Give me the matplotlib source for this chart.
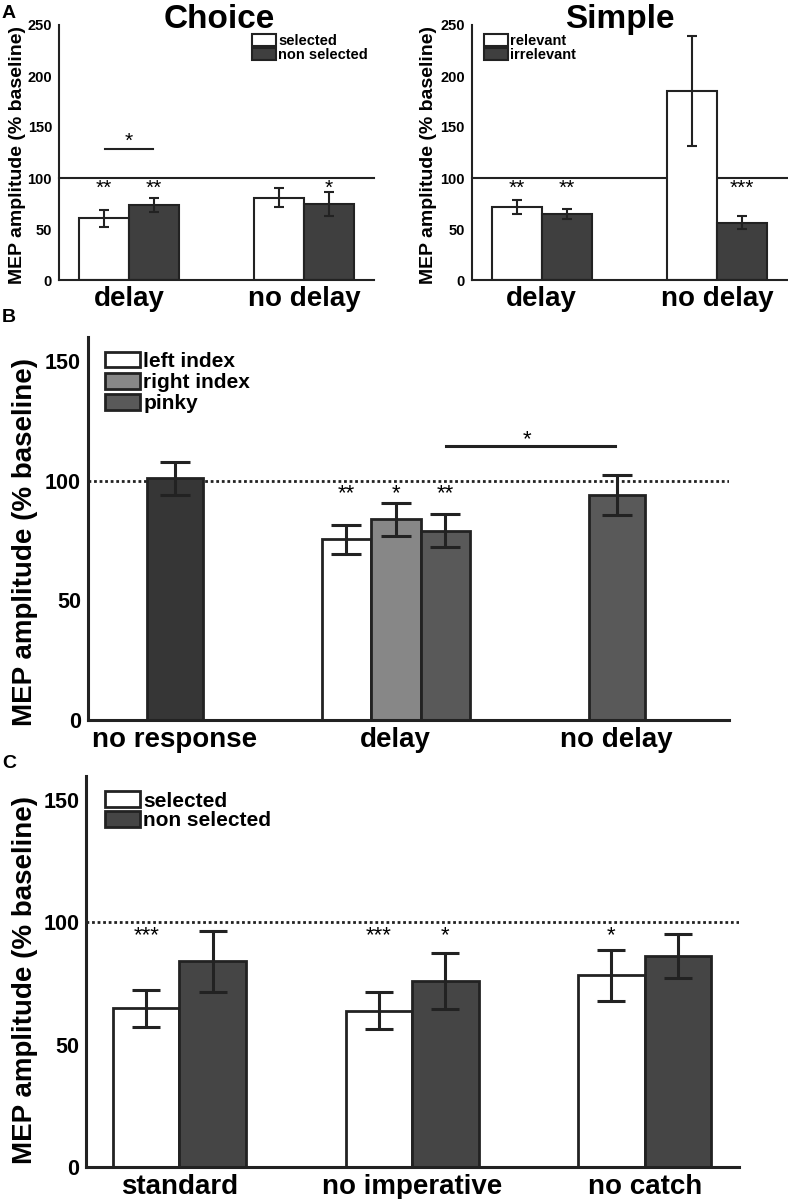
import matplotlib.pyplot as plt
from matplotlib.patches import Patch
import numpy as np

plt.rcParams['font.family'] = ['Liberation Sans', 'DejaVu Sans']

# ---- panel A data ----
grupos_a = ["delay", "no delay"]
choice_sel = [60.5, 80.7]
choice_sel_err = [8.5, 9.3]
choice_non = [73.2, 74.8]
choice_non_err = [7.0, 11.6]
choice_stars_sel = ["**", ""]
choice_stars_non = ["**", "*"]

simple_rel = [71.6, 185.3]
simple_rel_err = [6.9, 53.5]
simple_irr = [64.4, 56.2]
simple_irr_err = [5.0, 6.5]
simple_stars_rel = ["**", ""]
simple_stars_irr = ["**", "***"]

# ---- panel B data ----
grupos_b = ["no response", "delay", "no delay"]
no_response = [101.0]
no_response_err = [6.8]
delay_b = [75.5, 83.8, 79.1]
delay_b_err = [6.1, 6.8, 6.8]
delay_b_stars = ["**", "*", "**"]
no_delay_b = [93.9]
no_delay_b_err = [8.4]
dedos = ["left index", "right index", "pinky"]

# ---- panel C data ----
grupos_c = ["standard", "no imperative", "no catch"]
c_sel = [64.8, 63.8, 78.4]
c_sel_err = [7.5, 7.6, 10.4]
c_non = [84.0, 76.0, 86.2]
c_non_err = [12.3, 11.4, 9.0]
c_stars_sel = ["***", "***", "*"]
c_stars_non = ["", "*", ""]

W, H = 788, 1199
fig = plt.figure(figsize=(W / 100, H / 100), dpi=100)


def caja(x0, x1, ytop, ybot):
    return fig.add_axes([x0 / W, 1 - ybot / H, (x1 - x0) / W, (ybot - ytop) / H])


def estilo(ax, lw, fs_y, fs_x):
    for s in ["top", "right"]:
        ax.spines[s].set_visible(False)
    for s in ["left", "bottom"]:
        ax.spines[s].set_linewidth(lw)
        ax.spines[s].set_color("#222222")
    ax.tick_params(length=0)
    for t in ax.get_yticklabels():
        t.set_fontweight("bold")
        t.set_fontsize(fs_y)
    for t in ax.get_xticklabels():
        t.set_fontweight("bold")
        t.set_fontsize(fs_x)


dark_a = "#3f3f3f"
ek = dict(ecolor="#222222", elinewidth=1.5, capthick=1.5)

# ---------------- A ----------------
paneles = [
    (59, 374, 219, "Choice", choice_sel, choice_sel_err, choice_non, choice_non_err,
     choice_stars_sel, choice_stars_non, ["selected", "non selected"], 0.613, -0.105),
    (471.7, 787, 620, "Simple", simple_rel, simple_rel_err, simple_irr, simple_irr_err,
     simple_stars_rel, simple_stars_irr, ["relevant", "irrelevant"], 0.039, -0.11),
]
for (x0, x1, xt, titulo, v1, e1, v2, e2, s1, s2, labs, legx, labx) in paneles:
    ax = caja(x0, x1, 25, 280)
    x = np.arange(1, 3)
    w = 0.286
    ax.axhline(100, color="#222222", lw=1.5, zorder=1, clip_on=False)
    ax.bar(x - w / 2, v1, w, color="white", edgecolor="#222222", lw=1.5, zorder=2)
    ax.bar(x + w / 2, v2, w, color=dark_a, edgecolor="#222222", lw=1.5, zorder=2)
    ax.errorbar(x - w / 2, v1, yerr=e1, fmt="none", capsize=3.5, zorder=3, **ek)
    ax.errorbar(x + w / 2, v2, yerr=e2, fmt="none", capsize=3.5, zorder=3, **ek)
    for xi, s in zip(x - w / 2, s1):
        ax.text(xi, 90, s, ha="center", va="center", fontsize=15, zorder=4)
    for xi, s in zip(x + w / 2, s2):
        ax.text(xi, 90, s, ha="center", va="center", fontsize=15, zorder=4)
    ax.set_xlim(0.6, 2.4)
    ax.set_ylim(0, 250)
    ax.set_yticks([0, 50, 100, 150, 200, 250])
    ax.set_xticks(x)
    ax.set_xticklabels(grupos_a)
    ax.tick_params(axis="x", pad=4)
    ax.tick_params(axis="y", pad=5)
    estilo(ax, 1.5, 10.5, 20)
    ax.set_ylabel("MEP amplitude (% baseline)", fontsize=14, fontweight="bold")
    ax.yaxis.set_label_coords(labx, 0.49)
    hs = [Patch(facecolor="white", edgecolor="#222222", lw=1.5),
          Patch(facecolor=dark_a, edgecolor="#222222", lw=1.5)]
    ax.legend(hs, labs, loc="upper left", bbox_to_anchor=(legx, 0.965), frameon=False,
              borderpad=0, borderaxespad=0, handlelength=1.65, handleheight=0.85,
              handletextpad=0.15, labelspacing=0.0,
              prop=dict(size=10.5, weight="bold"))
    fig.text(xt / W, 1 - 28 / H, titulo, ha="center", va="baseline",
             fontsize=24, fontweight="bold")
    if titulo == "Choice":
        ax.plot([0.86, 1.14], [128.4, 128.4], color="#222222", lw=1.5)
        ax.text(1.0, 136, "*", ha="center", va="center", fontsize=15)

# ---------------- B ----------------
axb = caja(88, 729, 337, 720)
dotted = dict(color="#222222", lw=2, ls=(0, (1, 1)), zorder=1)
axb.plot([0.606, 3.509], [100, 100], **dotted)
wb1 = 0.253
wb3 = 0.224
col_b = ["white", "#878787", "#595959"]
axb.bar([1], no_response, wb1, color="#363636", edgecolor="#222222", lw=2, zorder=2)
axb.errorbar([1], no_response, yerr=no_response_err, fmt="none", capsize=11,
             ecolor="#222222", elinewidth=2.2, capthick=2.2, zorder=3)
xd = 2 + np.array([-1, 0, 1]) * wb3
axb.bar(xd, delay_b, wb3, color=col_b, edgecolor="#222222", lw=2, zorder=2)
axb.errorbar(xd, delay_b, yerr=delay_b_err, fmt="none", capsize=11,
             ecolor="#222222", elinewidth=2.2, capthick=2.2, zorder=3)
for xi, s in zip(xd, delay_b_stars):
    axb.text(xi, 94.5, s, ha="center", va="center", fontsize=16, zorder=4)
axb.bar([3], no_delay_b, wb1, color="#595959", edgecolor="#222222", lw=2, zorder=2)
axb.errorbar([3], no_delay_b, yerr=no_delay_b_err, fmt="none", capsize=11,
             ecolor="#222222", elinewidth=2.2, capthick=2.2, zorder=3)
axb.plot([2.226, 2.994], [114.6, 114.6], color="#222222", lw=2.2)
axb.text(2.595, 117, "*", ha="center", va="center", fontsize=16)
axb.set_xlim(0.606, 3.509)
axb.set_ylim(0, 160)
axb.set_yticks([0, 50, 100, 150])
axb.set_xticks([1, 2, 3])
axb.set_xticklabels(grupos_b)
axb.tick_params(axis="x", pad=5)
axb.tick_params(axis="y", pad=5)
estilo(axb, 2.2, 15.5, 20)
axb.set_ylabel("MEP amplitude (% baseline)", fontsize=20, fontweight="bold")
axb.yaxis.set_label_coords(-0.078, 0.465)
hs = [Patch(facecolor=c, edgecolor="#222222", lw=2) for c in col_b]
axb.legend(hs, dedos, loc="upper left", bbox_to_anchor=(0.0265, 0.962), frameon=False,
           borderpad=0, borderaxespad=0, handlelength=1.68, handleheight=0.8,
           handletextpad=0.15, labelspacing=0.1, prop=dict(size=15, weight="bold"))

# ---------------- C ----------------
axc = caja(86.4, 738.7, 775.8, 1166.7)
axc.plot([0.6, 3.404], [100, 100], **dotted)
xc = np.arange(1, 4)
wc = 0.286
dark_c = "#454545"
axc.bar(xc - wc / 2, c_sel, wc, color="white", edgecolor="#222222", lw=2, zorder=2)
axc.bar(xc + wc / 2, c_non, wc, color=dark_c, edgecolor="#222222", lw=2, zorder=2)
axc.errorbar(xc - wc / 2, c_sel, yerr=c_sel_err, fmt="none", capsize=10,
             ecolor="#222222", elinewidth=2.2, capthick=2.2, zorder=3)
axc.errorbar(xc + wc / 2, c_non, yerr=c_non_err, fmt="none", capsize=10,
             ecolor="#222222", elinewidth=2.2, capthick=2.2, zorder=3)
for xi, s in zip(xc - wc / 2, c_stars_sel):
    axc.text(xi, 94.5, s, ha="center", va="center", fontsize=16, zorder=4)
for xi, s in zip(xc + wc / 2, c_stars_non):
    axc.text(xi, 94.5, s, ha="center", va="center", fontsize=16, zorder=4)
axc.set_xlim(0.6, 3.404)
axc.set_ylim(0, 160)
axc.set_yticks([0, 50, 100, 150])
axc.set_xticks(xc)
axc.set_xticklabels(grupos_c)
axc.tick_params(axis="x", pad=5)
axc.tick_params(axis="y", pad=5)
estilo(axc, 2.2, 15.5, 20)
axc.set_ylabel("MEP amplitude (% baseline)", fontsize=20, fontweight="bold")
axc.yaxis.set_label_coords(-0.074, 0.478)
hs = [Patch(facecolor="white", edgecolor="#222222", lw=2),
      Patch(facecolor=dark_c, edgecolor="#222222", lw=2)]
axc.legend(hs, ["selected", "non selected"], loc="upper left",
           bbox_to_anchor=(0.029, 0.96), frameon=False, borderpad=0, borderaxespad=0,
           handlelength=1.68, handleheight=0.8, handletextpad=0.15, labelspacing=0.0,
           prop=dict(size=15, weight="bold"))

# panel letters
fig.text(2 / W, 1 - 14 / H, "A", fontsize=14, fontweight="bold", va="center")
fig.text(2 / W, 1 - 318 / H, "B", fontsize=14, fontweight="bold", va="center")
fig.text(2 / W, 1 - 764 / H, "C", fontsize=14, fontweight="bold", va="center")

fig.savefig("out.png", dpi=100)
